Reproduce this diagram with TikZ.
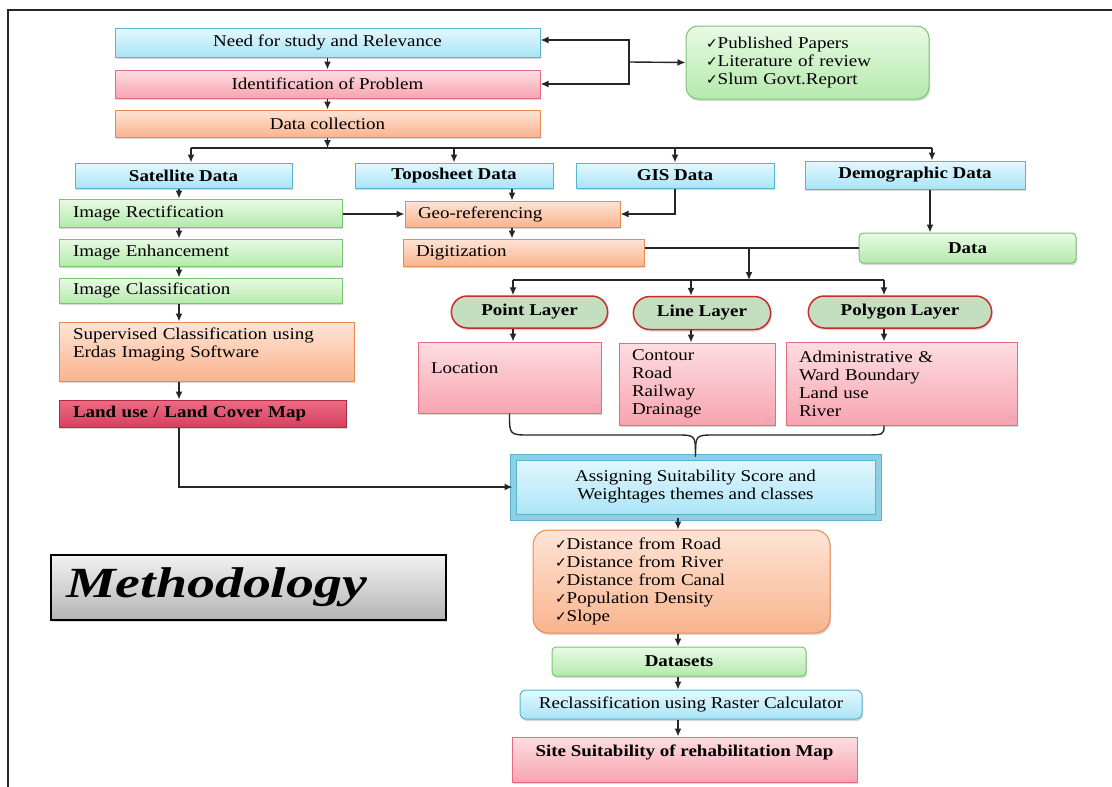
\documentclass[tikz,border=0pt]{standalone}
\usepackage{fontspec}
\setmainfont{Liberation Serif}[FakeStretch=1.15]
\newfontfamily\symfont{DejaVu Sans}
\newfontfamily\titlefont{Liberation Serif}[FakeStretch=1.3]
\usepackage{xcolor}
\usepackage{tikz}
\usetikzlibrary{arrows.meta,shapes.misc,shadows}

\definecolor{cyanline}{HTML}{5AB4D0}
\definecolor{cyantop}{HTML}{E4F8FE}
\definecolor{cyanbot}{HTML}{A9E4F6}
\definecolor{cyanmid}{HTML}{8FCFE3}
\definecolor{pinkline}{HTML}{E46C80}
\definecolor{pinktop}{HTML}{FDDDE2}
\definecolor{pinkbot}{HTML}{F8A4B0}
\definecolor{orangeline}{HTML}{EA8A50}
\definecolor{orangetop}{HTML}{FEE4D6}
\definecolor{orangebot}{HTML}{F9B48E}
\definecolor{greenline}{HTML}{7CC474}
\definecolor{greentop}{HTML}{E8FAE4}
\definecolor{greenbot}{HTML}{B4EAAC}
\definecolor{redline}{HTML}{B02A44}
\definecolor{redtop}{HTML}{EC6C84}
\definecolor{redbot}{HTML}{D8405E}
\definecolor{layerfill}{HTML}{C4DEC0}
\definecolor{layerline}{HTML}{CC2A2A}
\definecolor{graytop}{HTML}{F2F2F2}
\definecolor{graybot}{HTML}{B4B4B4}

\newcommand{\boxsize}{\fontsize{16.5}{18}\selectfont}
\newcommand{\chk}{{\symfont\fontsize{14}{14}\selectfont ✓}}

\begin{document}
\begin{tikzpicture}[
  x=1pt, y=-1pt, font=\boxsize,
  arr/.style={draw=black!85, line width=1.4pt, -{Latex[length=8pt,width=7pt]}},
  link/.style={draw=black!85, line width=1.4pt},
  boxbase/.style={draw, line width=1pt, align=center, inner sep=3pt,
    drop shadow={shadow xshift=1pt, shadow yshift=-2pt, opacity=0.3}},
  cyanbox/.style={boxbase, draw=cyanline, top color=cyantop, bottom color=cyanbot},
  pinkbox/.style={boxbase, draw=pinkline, top color=pinktop, bottom color=pinkbot},
  orangebox/.style={boxbase, draw=orangeline, top color=orangetop, bottom color=orangebot},
  greenbox/.style={boxbase, draw=greenline, top color=greentop, bottom color=greenbot},
  redbox/.style={boxbase, draw=redline, top color=redtop, bottom color=redbot},
  graybox/.style={boxbase, draw=black, line width=1.3pt, top color=graytop, bottom color=graybot},
  leftbox/.style={align=left, inner xsep=14pt},
  hdr/.style={font=\boxsize\bfseries},
  notebox/.style={pinkbox, align=left, inner xsep=13pt,
    path picture={\fill[pinkline!60] ([xshift=-9pt]path picture bounding box.south east)
      -- ([yshift=9pt]path picture bounding box.south east)
      -- ([shift={(-9pt,9pt)}]path picture bounding box.south east) -- cycle;}},
  layerbox/.style={rounded rectangle, draw=layerline, line width=1.5pt, fill=layerfill, hdr,
    drop shadow={shadow xshift=1pt, shadow yshift=-2pt, opacity=0.3}}
]
  \useasboundingbox (0,0) rectangle (1112,787);
  % frame
  \draw[black!85, line width=1.6pt] (8,787) -- (8,10) -- (1112,10);

  % top block
  \node[cyanbox, minimum width=425pt, minimum height=29pt] (need) at (327.5,42.5) {Need for study and Relevance};
  \node[pinkbox, minimum width=425pt, minimum height=28pt] (ident) at (327.5,84) {Identification of Problem};
  \node[orangebox, minimum width=425pt, minimum height=27pt] (dcoll) at (327.5,123.5) {Data collection};
  \node[greenbox, rounded corners=12pt, align=left, inner xsep=20pt, text width=203pt, minimum height=73pt] (papers) at (807.5,62.5)
    {\chk Published Papers\\ \chk Literature of review\\ \chk Slum Govt.Report};

  % data sources
  \node[cyanbox, hdr, minimum width=217pt, minimum height=25pt] (sat) at (183.5,175.5) {Satellite Data};
  \node[cyanbox, hdr, minimum width=198pt, minimum height=25pt] (topo) at (454,175.5) {Toposheet Data};
  \node[cyanbox, hdr, minimum width=198pt, minimum height=25pt] (gis) at (675,175.5) {GIS Data};
  \node[cyanbox, hdr, minimum width=220pt, minimum height=28pt] (demo) at (915,175) {Demographic Data};

  % satellite branch
  \node[greenbox, leftbox, text width=255pt, minimum height=28pt] (rect) at (200.5,213) {Image Rectification};
  \node[greenbox, leftbox, text width=255pt, minimum height=27pt] (enh) at (200.5,252.5) {Image Enhancement};
  \node[greenbox, leftbox, text width=255pt, minimum height=25pt] (cls) at (200.5,290.5) {Image Classification};
  \node[orangebox, leftbox, text width=267pt, minimum height=59pt] (sup) at (206.5,351.5)
    {Supervised Classification using\\Erdas Imaging Software\\ \mbox{}};
  \node[redbox, leftbox, hdr, text width=259pt, minimum height=27pt] (lulc) at (202.5,413.5) {Land use / Land Cover Map};

  % vector branch
  \node[orangebox, align=left, inner xsep=13pt, text width=189pt, minimum height=26pt] (georef) at (512.5,214) {Geo-referencing};
  \node[orangebox, align=left, inner xsep=13pt, text width=215pt, minimum height=27pt] (digit) at (523.5,252.5) {Digitization};
  \node[greenbox, hdr, rounded corners=4pt, minimum width=217pt, minimum height=30pt] (data) at (967.5,248) {Data};

  \node[layerbox, minimum width=163pt, minimum height=32pt] (pl) at (529.5,312) {Point Layer};
  \node[layerbox, minimum width=144pt, minimum height=33pt] (ll) at (702,313) {Line Layer};
  \node[layerbox, minimum width=190pt, minimum height=32pt] (pgl) at (900,312) {Polygon Layer};

  \node[notebox, text width=157pt, minimum height=71pt, text height=12pt, text depth=21pt] (loc) at (509.5,377.5) {Location};
  \node[notebox, text width=130pt, minimum height=82pt] (cont) at (697,384) {Contour\\Road\\Railway\\Drainage};
  \node[notebox, text width=205pt, minimum height=83pt] (admin) at (901.5,383.5) {Administrative \&\\Ward Boundary\\Land use\\River};

  % analysis chain
  \node[cyanbox, double=cyanmid, double distance=5pt, minimum width=365pt, minimum height=60pt] (assign) at (695.5,487)
    {Assigning Suitability Score and\\Weightages themes and classes};
  \node[orangebox, rounded corners=15pt, align=left, inner xsep=22pt, text width=253pt, minimum height=103pt] (dist) at (681.5,581.5)
    {\chk Distance from Road\\ \chk Distance from River\\ \chk Distance from Canal\\ \chk Population Density\\ \chk Slope};
  \node[greenbox, hdr, rounded corners=4pt, minimum width=254pt, minimum height=29pt] (dsets) at (679,661.5) {Datasets};
  \node[cyanbox, rounded corners=6pt, minimum width=342pt, minimum height=29pt] (recl) at (691,704.5) {Reclassification using Raster Calculator};
  \node[pinkbox, hdr, minimum width=345pt, minimum height=45pt, text height=12pt, text depth=18pt] (site) at (684.5,759.5) {Site Suitability of rehabilitation Map};

  \node[graybox, align=left, inner xsep=15pt, text width=365pt, minimum height=65pt] (meth) at (248.5,587.5)
    {\titlefont\fontsize{43}{43}\selectfont\bfseries\itshape Methodology};

  % column coordinates
  \coordinate (br) at (629,62);
  \coordinate (busL) at (191,148);
  \coordinate (busR) at (932,148);
  \coordinate (lcol) at (179,0);
  \coordinate (mcol) at (512,0);
  \coordinate (dcol) at (930,0);
  \coordinate (jn) at (749,248);
  \coordinate (lbusL) at (513,280);
  \coordinate (lbusM) at (691,280);
  \coordinate (lbusR) at (884,280);
  \coordinate (ccol) at (678,0);

  % connectors
  \draw[arr] (br) -- (papers.west);
  \draw[arr] (br) |- ([yshift=2.5pt]need.east);
  \draw[arr] (br) |- (ident.east);
  \draw[arr] (need) -- (ident);
  \draw[arr] (ident) -- (dcoll);
  \draw[arr] (dcoll.south) -- (dcoll.south |- busL);
  \draw[link] (busL) -- (busR);
  \draw[arr] (busL) -- (busL |- sat.north);
  \draw[arr] (topo.north |- busL) -- (topo.north);
  \draw[arr] (gis.north |- busL) -- (gis.north);
  \draw[arr] (busR) -- (busR |- demo.north);

  \draw[arr] (sat.south -| lcol) -- (rect.north -| lcol);
  \draw[arr] (rect.south -| lcol) -- (enh.north -| lcol);
  \draw[arr] (enh.south -| lcol) -- (cls.north -| lcol);
  \draw[arr] (cls.south -| lcol) -- (sup.north -| lcol);
  \draw[arr] (sup.south -| lcol) -- (lulc.north -| lcol);
  \draw[arr] (lulc.south -| lcol) |- (assign.west);

  \draw[arr] (rect.east |- georef.west) -- (georef.west);
  \draw[arr] (topo.south -| mcol) -- (georef.north -| mcol);
  \draw[arr] (georef.south -| mcol) -- (digit.north -| mcol);
  \draw[arr] (gis.south) |- (georef.east);
  \draw[arr] (demo.south -| dcol) -- (data.north -| dcol);
  \draw[link] (data.west -| digit.east) -- (data.west);
  \draw[arr] (jn) -- (jn |- lbusL);
  \draw[link] (lbusL) -- (lbusR);
  \draw[arr] (lbusL) -- (lbusL |- pl.north);
  \draw[arr] (lbusM) -- (lbusM |- ll.north);
  \draw[arr] (lbusR) -- (lbusR |- pgl.north);
  \draw[arr] (pl.south -| lbusL) -- (loc.north -| lbusL);
  \draw[arr] (ll.south -| lbusM) -- (cont.north -| lbusM);
  \draw[arr] (pgl.south -| lbusR) -- (admin.north -| lbusR);

  % brace into the scoring box
  \draw[link] (loc.south) .. controls (509.5,435) .. (530,435) -- (676,435) .. controls (695.5,435) .. (assign.north);
  \draw[link] (admin.south -| lbusR) .. controls (884,435) .. (862,435) -- (715,435) .. controls (695.5,435) .. (assign.north);

  \draw[arr] (assign.south -| ccol) -- (dist.north -| ccol);
  \draw[arr] (dist.south -| ccol) -- (dsets.north -| ccol);
  \draw[arr] (dsets.south -| ccol) -- (recl.north -| ccol);
  \draw[arr] (recl.south -| ccol) -- (site.north -| ccol);
\end{tikzpicture}
\end{document}
